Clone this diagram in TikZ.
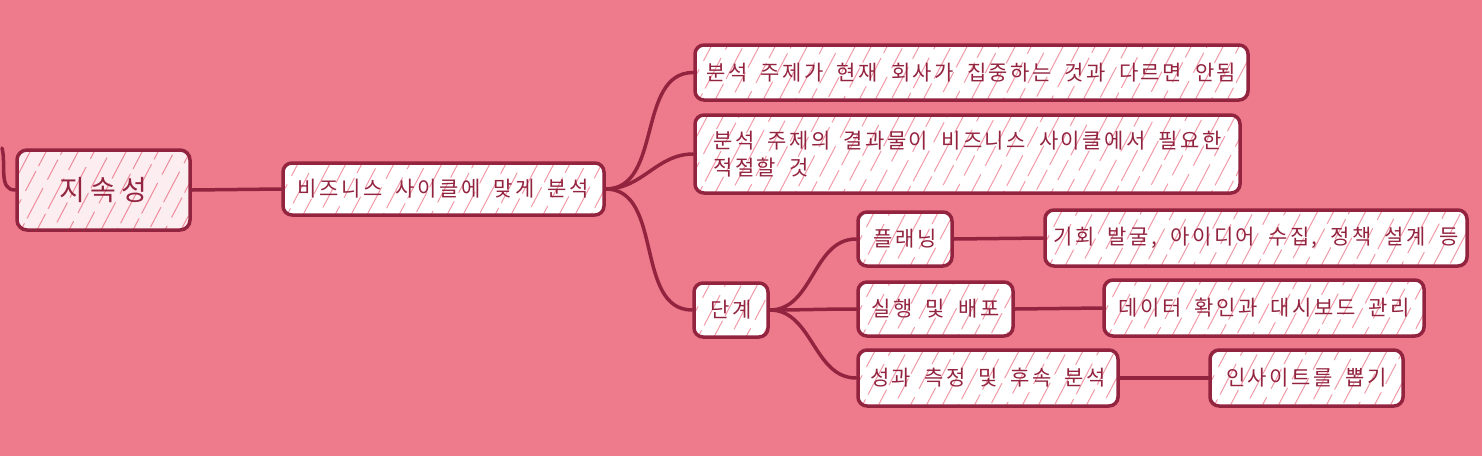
\documentclass[tikz,border=0pt]{standalone}
\usepackage{fontspec}
\newfontfamily\kr[LetterSpace=12,WordSpace=1.8]{Noto Sans CJK KR}
\newfontfamily\krt[LetterSpace=20]{Noto Sans CJK KR}
\definecolor{bg}{HTML}{EE7B8C}
\definecolor{ink}{HTML}{932440}
\definecolor{hatchc}{HTML}{F29AA8}
\definecolor{thatch}{HTML}{EE8C9B}
\definecolor{tpaper}{HTML}{FCEDF0}
\tikzset{
  hatchline/.style={draw=hatchc, line width=1pt, line cap=round},
  hatched/.style={path picture={
      \foreach \k [evaluate=\k as \ph using {mod(\k*3.7,70)}] in {-60,-44,...,600}{
        \draw[hatchline, #1, dash pattern=on 22pt off 6pt on 34pt off 10pt, dash phase=\ph pt]
          ([xshift=\k pt]path picture bounding box.south west) -- ++(42,80);
      }}},
  box/.style={draw=ink, line width=3.5pt, fill=white, rounded corners=9pt, text=ink,
    font=\kr\fontsize{21}{27}\selectfont, inner sep=0pt, align=left, hatched={}},
  titlebox/.style={draw=ink, line width=3.5pt, fill=tpaper, rounded corners=10pt, text=ink,
    font=\krt\fontsize{28}{32}\selectfont, inner sep=0pt, hatched={draw=thatch}},
  conn/.style={draw=ink, line width=3.5pt, line cap=round}
}
\begin{document}
\begin{tikzpicture}[x=1pt,y=1pt]
\useasboundingbox (0,0) rectangle (1482,-456);
\fill[bg] (0,0) rectangle (1482,-456);
\node[titlebox, minimum width=173pt, minimum height=80pt] (t) at (103.5,-190) {지속성};
\node[box, minimum width=321pt, minimum height=52pt] (a) at (443.5,-189) {비즈니스 사이클에 맞게 분석};
\node[box, minimum width=553pt, minimum height=55pt] (b1) at (971.5,-72.5) {분석 주제가 현재 회사가 집중하는 것과 다르면 안됨};
\node[box, minimum width=545pt, minimum height=78pt] (b2) at (967.5,-154) {분석 주제의 결과물이 비즈니스 사이클에서 필요한\\적절할 것};
\node[box, minimum width=74pt, minimum height=54pt] (s) at (731,-310) {단계};
\node[box, minimum width=94pt, minimum height=54pt] (p1) at (905,-239) {플래닝};
\node[box, minimum width=422pt, minimum height=56pt] (q1) at (1256,-238) {기회 발굴, 아이디어 수집, 정책 설계 등};
\node[box, minimum width=155pt, minimum height=54pt] (p2) at (935.5,-309) {실행 및 배포};
\node[box, minimum width=320pt, minimum height=56pt] (q2) at (1264,-308) {데이터 확인과 대시보드 관리};
\node[box, minimum width=260pt, minimum height=56pt] (p3) at (988,-378) {성과 측정 및 후속 분석};
\node[box, minimum width=193pt, minimum height=56pt] (q3) at (1306.5,-378) {인사이트를 뽑기};
\coordinate (lc) at (2,-148);
\draw[conn] (lc) to[out=-75,in=180] (t.west);
\draw[conn] (t.east) -- (a.west);
\draw[conn] (a.east) to[out=0,in=180] (b1.west);
\draw[conn] (a.east) to[out=0,in=180] (b2.west);
\draw[conn] (a.east) to[out=0,in=180] (s.west);
\draw[conn] (s.east) to[out=0,in=180] (p1.west);
\draw[conn] (s.east) to[out=0,in=180] (p2.west);
\draw[conn] (s.east) to[out=0,in=180] (p3.west);
\draw[conn] (p1.east) -- (q1.west);
\draw[conn] (p2.east) -- (q2.west);
\draw[conn] (p3.east) -- (q3.west);
\end{tikzpicture}
\end{document}
